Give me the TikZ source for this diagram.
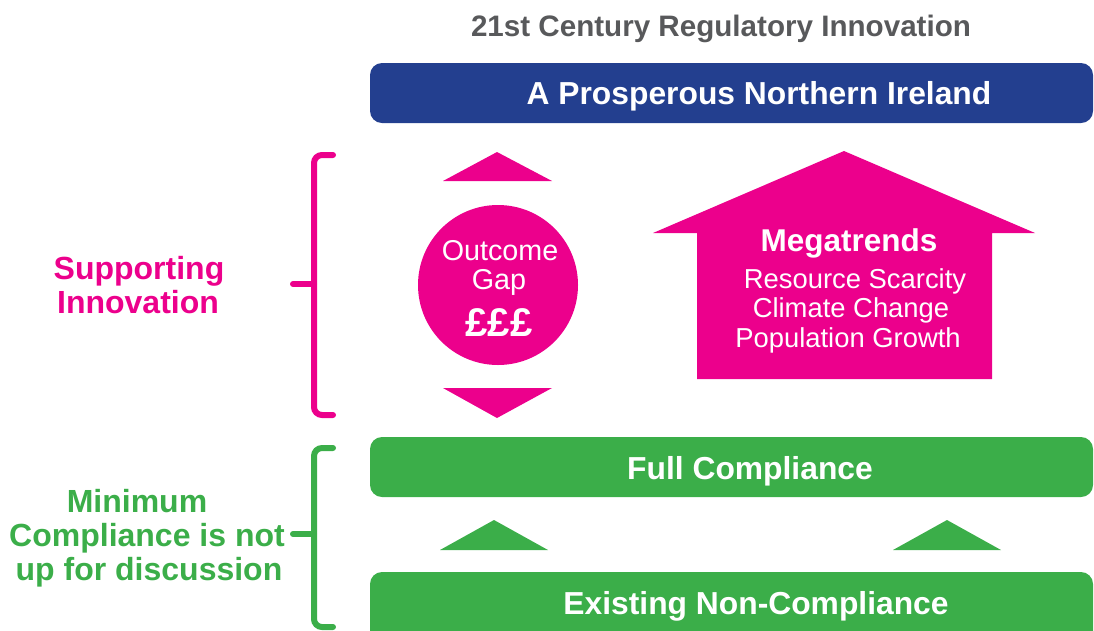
\documentclass[tikz,border=0pt]{standalone}
\usepackage{fontspec}
\setmainfont{Liberation Sans}
\definecolor{npblue}{HTML}{233F8F}
\definecolor{nppink}{HTML}{EC008C}
\definecolor{npgreen}{HTML}{3BAE49}
\definecolor{npgray}{HTML}{58595B}
\begin{document}
\begin{tikzpicture}[x=1pt,y=-1pt,
  bar/.style={rounded corners=12pt, inner sep=0pt},
  bartext/.style={anchor=base, text=white, font=\fontsize{31.8}{36}\selectfont\bfseries},
  sidetext/.style={anchor=base, font=\fontsize{32}{36}\selectfont\bfseries},
  megatext/.style={anchor=base, text=white, font=\fontsize{27.4}{30}\selectfont},
  bracket/.style={line width=6pt, line cap=round, rounded corners=8pt}]
\useasboundingbox (0,0) rectangle (1094,630);

% title
\node[anchor=base, text=npgray, font=\fontsize{29.6}{34}\selectfont\bfseries] (title) at (721,36) {21st Century Regulatory Innovation};

% blue bar
\fill[npblue, rounded corners=12pt] (370,63) rectangle (1093,123);
\node[bartext] (prospertext) at (759,104) {A Prosperous Northern Ireland};

% pink bracket
\draw[bracket, nppink] (333,155) -- (314,155) -- (314,415) -- (333,415);
\draw[bracket, nppink, rounded corners=0pt] (293,284) -- (314,284);
\node[sidetext, text=nppink] (supp1) at (139,279) {Supporting};
\node[sidetext, text=nppink] (supp2) at (138,313) {Innovation};

% outcome gap
\fill[nppink] (443,181) -- (497,152) -- (552,181) -- cycle;
\fill[nppink] (443,388) -- (497,418) -- (552,388) -- cycle;
\node[circle, fill=nppink, minimum size=160pt, inner sep=0pt] (gap) at (498,285) {};
\node[anchor=base, text=white, font=\fontsize{28.7}{30}\selectfont] (gap1) at (500,260) {Outcome};
\node[anchor=base, text=white, font=\fontsize{28.7}{30}\selectfont] (gap2) at (499,289) {Gap};
\node[anchor=base, text=white, font=\fontsize{40}{42}\selectfont\bfseries] (gap3) at (499,336) {£££};

% megatrends house
\fill[nppink] (844,151) -- (1035,233) -- (992,233) -- (992,379) -- (697,379) -- (697,233) -- (653,233) -- cycle;
\node[anchor=base, text=white, font=\fontsize{31.5}{34}\selectfont\bfseries] (mega) at (849,251) {Megatrends};
\node[megatext] (mega1) at (855,288) {Resource Scarcity};
\node[megatext] (mega2) at (851,317) {Climate Change};
\node[megatext] (mega3) at (848,347) {Population Growth};

% green bars
\fill[npgreen, rounded corners=12pt] (370,437) rectangle (1093,497);
\node[bartext] (full) at (750,479) {Full Compliance};
\fill[npgreen, rounded corners=12pt] (370,572) rectangle (1093,650);
\node[bartext] (exist) at (756,614) {Existing Non-Compliance};

% green triangles
\fill[npgreen] (440,550) -- (494,520) -- (548,550) -- cycle;
\fill[npgreen] (893,550) -- (947,520) -- (1001,550) -- cycle;

% green bracket
\draw[bracket, npgreen] (333,448) -- (314,448) -- (314,627) -- (333,627);
\draw[bracket, npgreen, rounded corners=0pt] (293,534) -- (314,534);
\node[sidetext, text=npgreen] (min1) at (137,512) {Minimum};
\node[sidetext, text=npgreen] (min2) at (147,546) {Compliance is not};
\node[sidetext, text=npgreen] (min3) at (149,580) {up for discussion};
\end{tikzpicture}
\end{document}
